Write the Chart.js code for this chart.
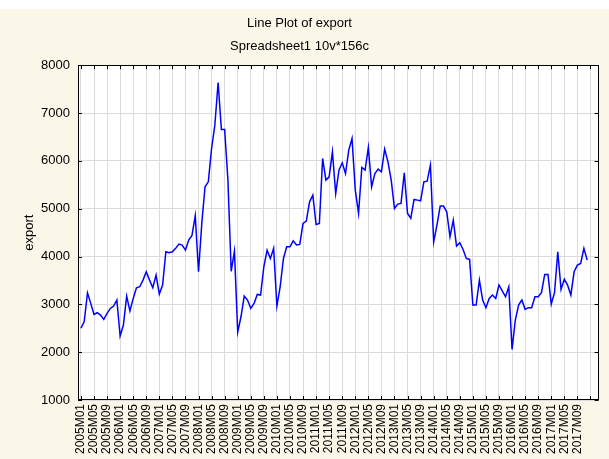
<!DOCTYPE html>
<html lang="en">
<head>
    <meta charset="UTF-8">
    <title>Line Plot of export</title>
    <style>
        html, body { margin: 0; padding: 0; background: #ffffff; }
        #wrap { width: 609px; height: 459px; }
    </style>
    <script src="https://cdn.jsdelivr.net/npm/chart.js"></script>
</head>
<body>
    <div id="wrap"><canvas id="chart" width="609" height="459"></canvas></div>

    <script>
        // monthly export, 2005M01 .. 2017M12 (156 months)
        const years = [2005, 2006, 2007, 2008, 2009, 2010, 2011, 2012, 2013, 2014, 2015, 2016, 2017];
        const exportValues = [
            2500, 2640, 3240, 3020, 2790, 2825, 2776, 2685, 2810, 2915, 2964, 3090,
            2337, 2567, 3173, 2860, 3124, 3347, 3368, 3507, 3680, 3507, 3347, 3612,
            3215, 3403, 4100, 4078, 4100, 4170, 4260, 4240, 4134, 4343, 4441, 4852,
            3680, 4690, 5458, 5562, 6259, 6746, 7638, 6656, 6656, 5600, 3690, 4110,
            2420, 2740, 3173, 3090, 2915, 3020, 3208, 3194, 3786, 4134, 3960, 4170,
            2964, 3368, 3960, 4204, 4204, 4329, 4240, 4253, 4690, 4740, 5144, 5283,
            4670, 4690, 6050, 5597, 5667, 6189, 5318, 5806, 5959, 5736, 6224, 6468,
            5388, 4900, 5862, 5806, 6280, 5458, 5736, 5827, 5771, 6245, 5980, 5597,
            5005, 5096, 5110, 5750, 4900, 4800, 5193, 5179, 5165, 5562, 5576, 5910,
            4308, 4657, 5054, 5054, 4935, 4413, 4760, 4218, 4287, 4148, 3960, 3939,
            2985, 2985, 3507, 3090, 2930, 3124, 3194, 3124, 3403, 3284, 3159, 3368,
            2059, 2672, 2985, 3090, 2895, 2930, 2930, 3159, 3159, 3243, 3626, 3626,
            3006, 3243, 4100, 3313, 3528, 3403, 3194, 3681, 3820, 3855, 4170, 3925
        ];
        const tickLabels = [
            '2005M01', '2005M05', '2005M09', '2006M01', '2006M05', '2006M09',
            '2007M01', '2007M05', '2007M09', '2008M01', '2008M05', '2008M09',
            '2009M01', '2009M05', '2009M09', '2010M01', '2010M05', '2010M09',
            '2011M01', '2011M05', '2011M09', '2012M01', '2012M05', '2012M09',
            '2013M01', '2013M05', '2013M09', '2014M01', '2014M05', '2014M09',
            '2015M01', '2015M05', '2015M09', '2016M01', '2016M05', '2016M09',
            '2017M01', '2017M05', '2017M09'
        ];
        const yTicks = [1000, 2000, 3000, 4000, 5000, 6000, 7000, 8000];

        const months = [];
        years.forEach(yr => {
            for (let m = 1; m <= 12; m++) months.push(yr + 'M' + String(m).padStart(2, '0'));
        });
        const points = exportValues.map((v, i) => ({ x: i, y: v }));

        const font = 'Liberation Sans, Arial, sans-serif';

        // cream background, white plot area, black frame with inner tick marks
        const framePlugin = {
            id: 'frame',
            beforeDraw(chart) {
                const { ctx, chartArea: a } = chart;
                ctx.save();
                ctx.fillStyle = '#ffffff';
                ctx.fillRect(0, 0, chart.width, chart.height);
                ctx.fillStyle = '#fbf7e8';
                ctx.fillRect(0, 9, chart.width, chart.height - 9);
                ctx.fillStyle = '#ffffff';
                ctx.fillRect(a.left, a.top, a.right - a.left, a.bottom - a.top);
                ctx.restore();
            },
            afterDraw(chart) {
                const { ctx, chartArea: a, scales } = chart;
                ctx.save();
                ctx.strokeStyle = '#000000';
                ctx.lineWidth = 1;
                ctx.strokeRect(Math.round(a.left) + 0.5, Math.round(a.top) + 0.5,
                    Math.round(a.right - a.left) - 1, Math.round(a.bottom - a.top) - 1);
                ctx.beginPath();
                scales.x.ticks.forEach(t => {
                    const px = Math.round(scales.x.getPixelForValue(t.value)) + 0.5;
                    ctx.moveTo(px, a.top); ctx.lineTo(px, a.top + 4);
                    ctx.moveTo(px, a.bottom); ctx.lineTo(px, a.bottom - 4);
                });
                scales.y.ticks.forEach(t => {
                    const py = Math.round(scales.y.getPixelForValue(t.value)) + 0.5;
                    ctx.moveTo(a.left, py); ctx.lineTo(a.left + 4, py);
                    ctx.moveTo(a.right, py); ctx.lineTo(a.right - 4, py);
                });
                ctx.stroke();
                ctx.restore();
            }
        };

        const ctx = document.getElementById('chart').getContext('2d');
        new Chart(ctx, {
            type: 'line',
            data: {
                labels: months,
                datasets: [{
                    label: 'export',
                    data: points,
                    borderColor: '#0000ff',
                    borderWidth: 1.5,
                    pointRadius: 0,
                    tension: 0,
                    fill: false
                }]
            },
            options: {
                responsive: false,
                animation: false,
                layout: { padding: { top: 0, right: 10, bottom: 0, left: 0 } },
                plugins: {
                    legend: { display: false },
                    tooltip: { enabled: false },
                    title: {
                        display: true,
                        text: 'Line Plot of export',
                        color: '#000000',
                        font: { family: font, size: 13, weight: 'normal' },
                        padding: { top: 16, bottom: 6 }
                    },
                    subtitle: {
                        display: true,
                        text: 'Spreadsheet1 10v*156c',
                        color: '#000000',
                        font: { family: font, size: 13, weight: 'normal' },
                        padding: { top: 1, bottom: 11 }
                    }
                },
                scales: {
                    x: {
                        type: 'linear',
                        min: -0.9,
                        max: 158.5,
                        afterBuildTicks: (scale) => {
                            const t = [];
                            for (let i = 0; i <= 156; i += 4) t.push({ value: i });
                            scale.ticks = t;
                        },
                        afterFit: (scale) => { scale.height = 59; },
                        grid: { color: '#dcdcdc', lineWidth: 1, drawTicks: false },
                        border: { display: false },
                        ticks: {
                            autoSkip: false,
                            minRotation: 90,
                            maxRotation: 90,
                            padding: 4,
                            color: '#000000',
                            font: { family: font, size: 12 },
                            callback: (v) => tickLabels[v / 4] || ''
                        }
                    },
                    y: {
                        min: 1000,
                        max: 8000,
                        afterBuildTicks: (scale) => {
                            scale.ticks = yTicks.map(v => ({ value: v }));
                        },
                        afterFit: (scale) => { scale.width = 78; },
                        grid: { color: '#dcdcdc', lineWidth: 1, drawTicks: false },
                        border: { display: false },
                        ticks: {
                            padding: 8,
                            color: '#000000',
                            font: { family: font, size: 13 },
                            callback: (v) => String(v)
                        },
                        title: {
                            display: true,
                            text: 'export',
                            color: '#000000',
                            font: { family: font, size: 13 },
                            padding: { top: 22, bottom: 0 }
                        }
                    }
                }
            },
            plugins: [framePlugin]
        });
    </script>
</body>
</html>
